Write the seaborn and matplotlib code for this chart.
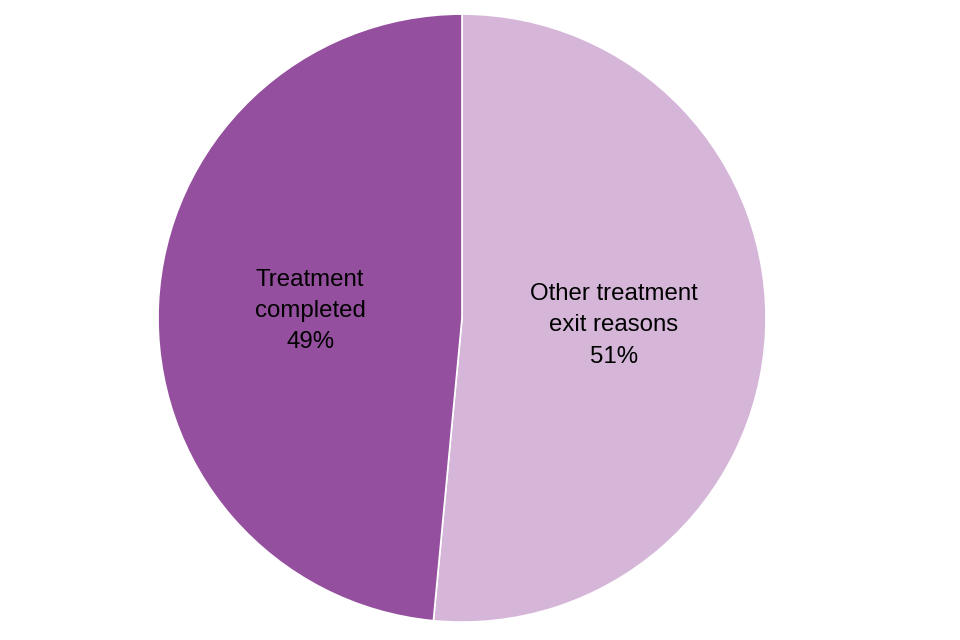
import seaborn as sns
import matplotlib.pyplot as plt

# Data (shares as read from the slice boundary; labels show rounded values)
categories = ["Other treatment\nexit reasons", "Treatment\ncompleted"]
shares = [51.5, 48.5]
shown_pct = [51, 49]
colours = ["#D5B6D9", "#954F9F"]

sns.set_theme(style="white")
plt.rcParams["font.family"] = ["Liberation Sans", "DejaVu Sans"]

fig = plt.figure(figsize=(9.6, 6.4), dpi=100)
ax = fig.add_axes([0.1646, 0.028, 0.6333, 0.95])

labels = [f"{c}\n{p}%" for c, p in zip(categories, shown_pct)]
wedges, texts = ax.pie(
    shares,
    labels=labels,
    colors=colours,
    startangle=90,
    counterclock=False,
    labeldistance=0.5,
    wedgeprops={"edgecolor": "white", "linewidth": 1.2},
    textprops={"fontsize": 17.3, "color": "black", "ha": "center", "va": "center",
               "linespacing": 1.55},
)
ax.set_aspect("equal")
ax.set_xlim(-1, 1)
ax.set_ylim(-1, 1)

plt.savefig("out.png", dpi=100)
